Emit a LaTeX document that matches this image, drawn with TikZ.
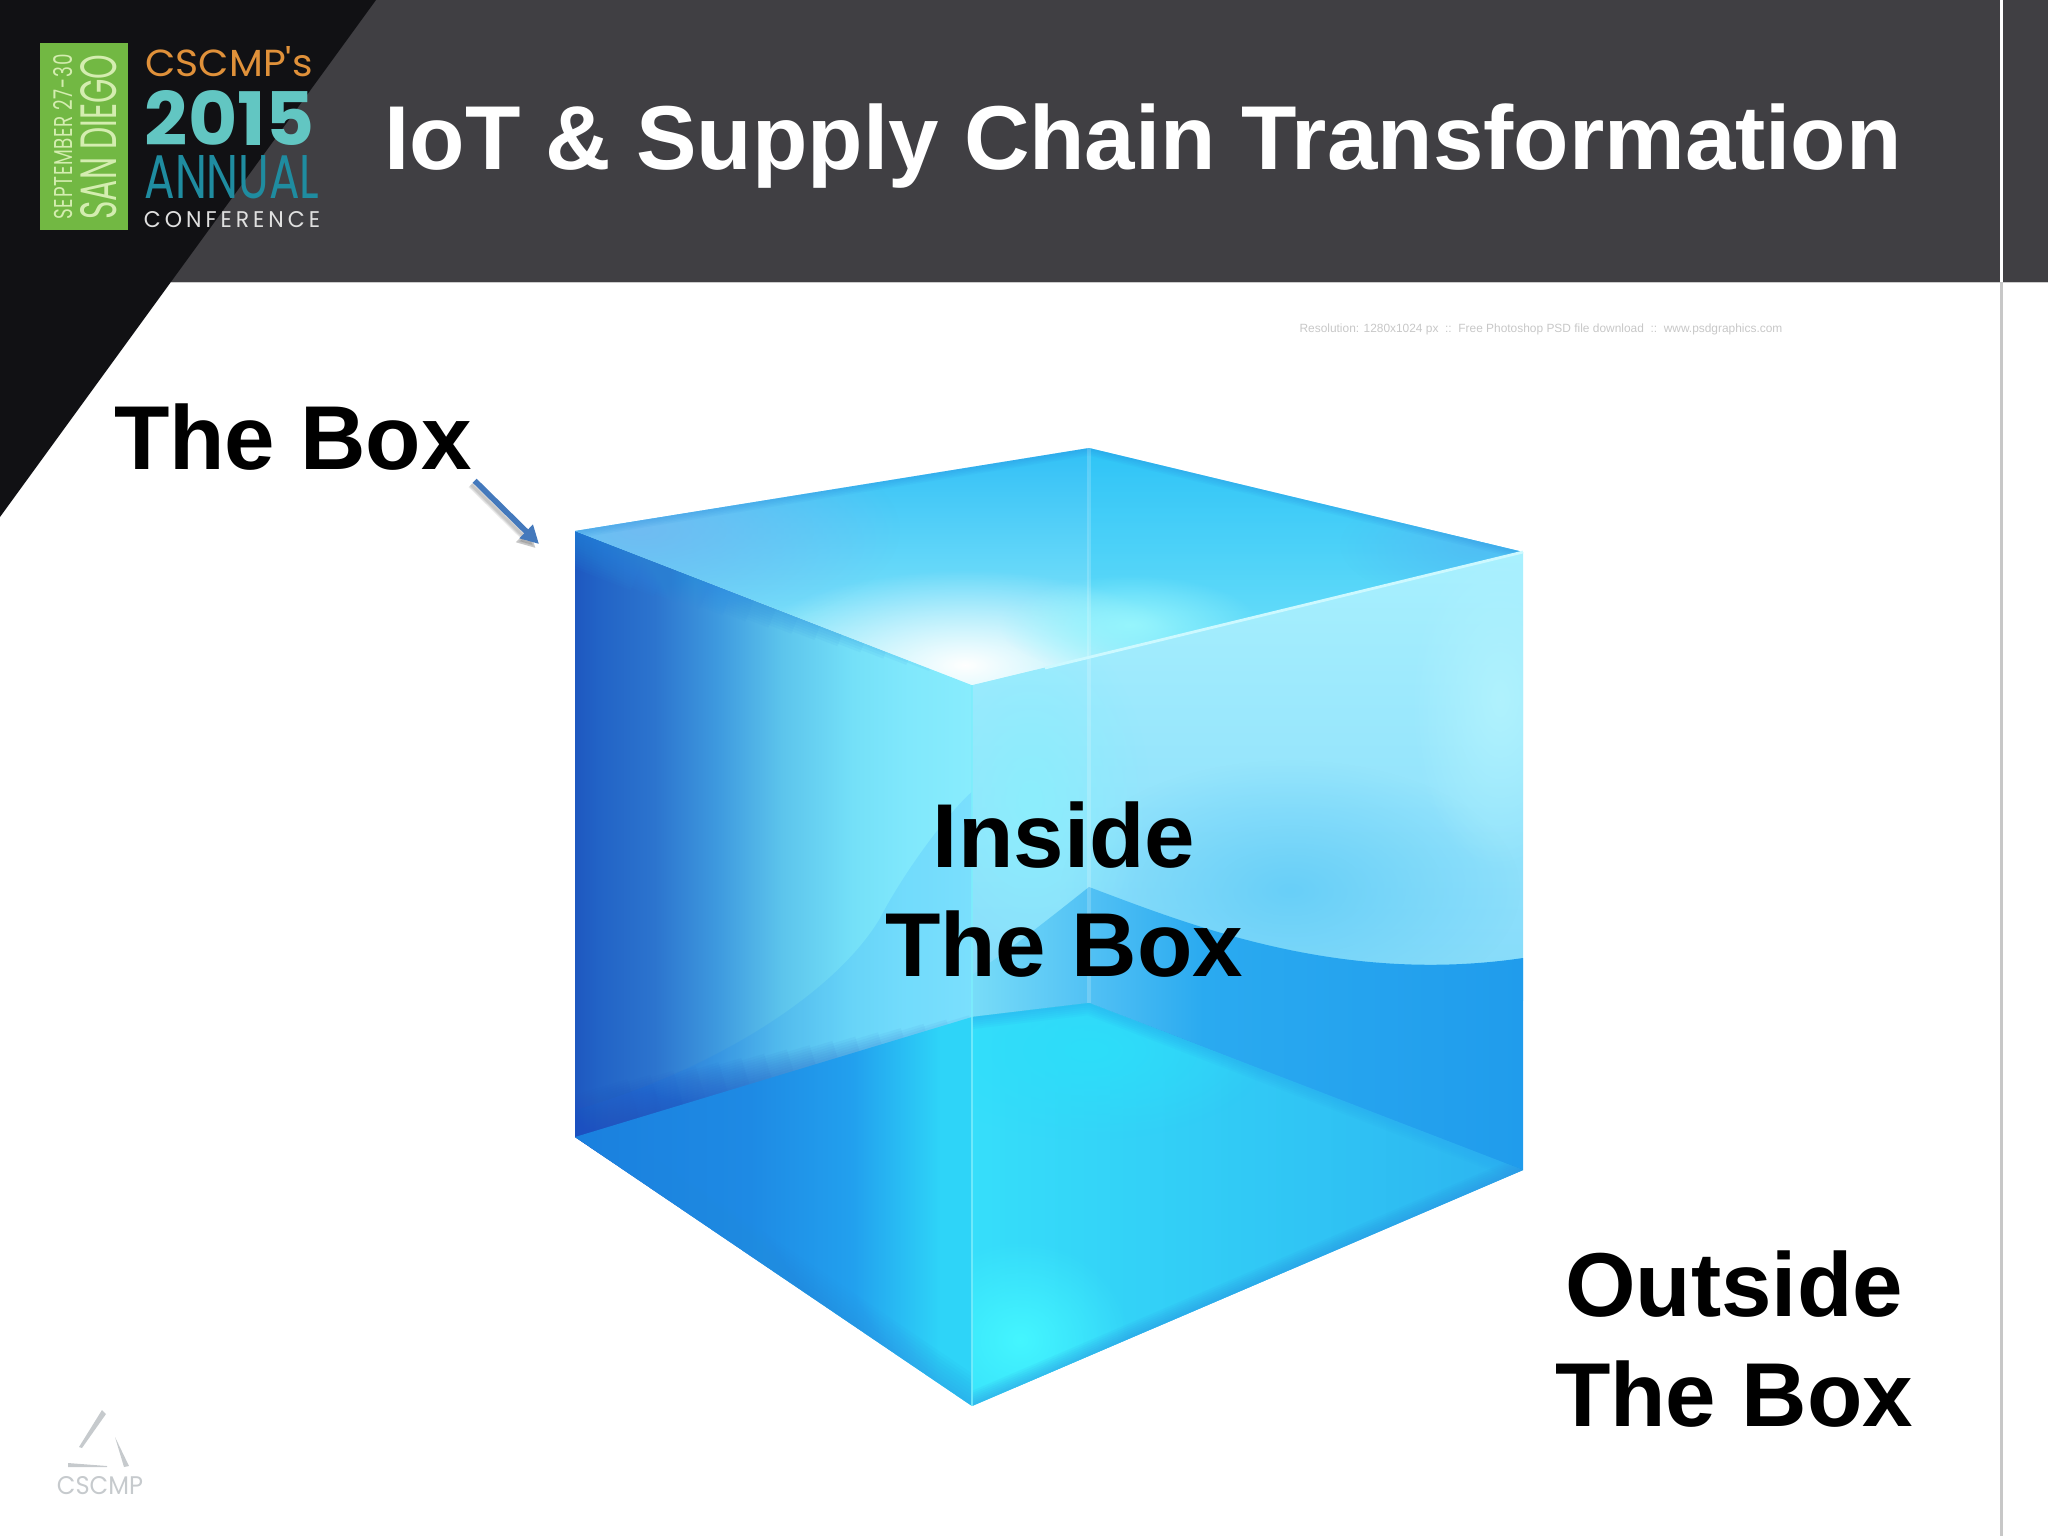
\documentclass[tikz,border=0pt]{standalone}
\usepackage{fontspec}
\setmainfont{Liberation Sans}
\newfontfamily\logofont{Poppins}
\usetikzlibrary{arrows.meta,fadings,calc}

\definecolor{headgray}{HTML}{403F43}
\definecolor{cornerblack}{HTML}{111114}
\definecolor{logogreen}{HTML}{72B843}
\definecolor{logopale}{HTML}{D4EDB0}
\definecolor{logoorange}{HTML}{E0913A}
\definecolor{logoteal}{HTML}{62C6C2}
\definecolor{logodeep}{HTML}{1F8CA0}
\definecolor{arrowblue}{HTML}{4479BC}
\definecolor{markgray}{HTML}{C6CACD}

% wall colours, left to right
\definecolor{wa}{HTML}{1E58C0}
\definecolor{wb}{HTML}{2263C6}
\definecolor{wc}{HTML}{2C74CE}
\definecolor{wd}{HTML}{3E9ADF}
\definecolor{we}{HTML}{5CC4EC}
\definecolor{wf}{HTML}{74E0F8}
\definecolor{wg}{HTML}{80E8FC}
\definecolor{wh}{HTML}{88ECFD}
\pgfdeclarehorizontalshading{wallleft}{100bp}{color(0bp)=(wa); color(25bp)=(wa); color(28bp)=(wb); color(35bp)=(wc); color(43bp)=(wd); color(51bp)=(we); color(60bp)=(wf); color(67bp)=(wg); color(75bp)=(wh); color(100bp)=(wh)}

% floor colours under the left wall
\definecolor{fa}{HTML}{1A80DE}
\definecolor{fb}{HTML}{1E8AE4}
\definecolor{fc}{HTML}{22A0EE}
\definecolor{fd}{HTML}{2ED4F8}
\pgfdeclarehorizontalshading{floorleft}{100bp}{color(0bp)=(fa); color(25bp)=(fa); color(47bp)=(fb); color(60bp)=(fc); color(71bp)=(fd); color(75bp)=(fd); color(100bp)=(fd)}

% right wall below the wave
\definecolor{wavea}{HTML}{78DCF8}
\definecolor{waveb}{HTML}{50C0F4}
\definecolor{wavec}{HTML}{2AAAF0}
\definecolor{waved}{HTML}{209CEC}
\pgfdeclarehorizontalshading{wavelow}{100bp}{color(0bp)=(wavea); color(25bp)=(wavea); color(36bp)=(waveb); color(46bp)=(wavec); color(75bp)=(waved); color(100bp)=(waved)}

% right wall and top face
\definecolor{rwalltop}{HTML}{A8F0FE}
\definecolor{rwalllow}{HTML}{84DAFA}
\definecolor{rspot}{HTML}{68CFF8}
\definecolor{redge}{HTML}{B0F2FE}
\definecolor{rinner}{HTML}{8CEEFD}
\definecolor{floorbright}{HTML}{36DEFA}
\definecolor{floordim}{HTML}{2CB4F0}
\definecolor{floorback}{HTML}{2DDEFA}
\definecolor{floorspot}{HTML}{44F6FF}
\definecolor{lidback}{HTML}{32C0F6}
\definecolor{lidfront}{HTML}{96EEFC}
\definecolor{lidleft}{HTML}{70BCF2}
\definecolor{lidright}{HTML}{28CDF8}
\definecolor{lidcorner}{HTML}{50BEF4}
\definecolor{lidglow}{HTML}{96F5FD}
\definecolor{edgepale}{HTML}{CDF9FF}
\definecolor{edgefront}{HTML}{7CEEFC}
\definecolor{bandblue}{HTML}{2A8CE0}
\definecolor{seamblue}{HTML}{2050C0}

\tikzfading[name=softfade, inner color=transparent!0, outer color=transparent!100]

\tikzset{
    biglabel/.style={font=\fontsize{25.8pt}{30pt}\selectfont\bfseries, anchor=base, inner sep=0.02cm, text depth=0.09cm},
    softspot/.style={path fading=softfade, draw=none},
    logotext/.style={inner sep=0pt, font=\logofont}
}

\begin{document}
\begin{tikzpicture}[x=0.01cm, y=-0.01cm]
    \useasboundingbox (0,0) rectangle (2048,1536);

    % Header
    \fill[headgray] (0,0) rectangle (2048,282);
    \fill[cornerblack] (0,0) -- (376,0) -- (0,517) -- cycle;
    \fill[gray!40] (171,281.5) rectangle (2048,282.5);
    \fill[white] (2000,0) rectangle (2003,282);
    \fill[black!22] (2000,282) rectangle (2003,1536);

    % Conference logo
    \fill[logogreen] (40,43) rectangle (128,230);
    \node[logotext, rotate=90, text=logopale] (logodate) at (63,137) {\resizebox{1.65cm}{0.19cm}{\addfontfeature{LetterSpace=4}SEPTEMBER 27-30}};
    \node[logotext, rotate=90, text=logopale] (logocity) at (99,137) {\resizebox{1.65cm}{0.36cm}{SAN DIEGO}};
    \node[logotext, text=logoorange] (logoname) at (229,62) {\resizebox{1.67cm}{0.30cm}{CSCMP's}};
    \node[logotext, text=logoteal] (logoyear) at (230,118) {\resizebox{1.70cm}{0.55cm}{\bfseries 2015}};
    \node[logotext, text=logodeep] (logoannual) at (232,177) {\resizebox{1.75cm}{0.43cm}{ANNUAL}};
    \node[logotext, text=white!88!black] (logoconf) at (232,220) {\resizebox{1.76cm}{0.16cm}{\addfontfeature{LetterSpace=18}CONFERENCE}};

    % Title
    \node[biglabel, text=white] (title) at (1143,169) {IoT \& Supply Chain Transformation};

    % Faint watermark of the box image
    \node[inner sep=0pt, text=black!22, font=\fontsize{3.39pt}{4pt}\selectfont] (mark) at (1541,329) {Resolution: 1280x1024 px\ \ ::\ \ Free Photoshop PSD file download\ \ ::\ \ www.psdgraphics.com};

    % Corners of the cube
    \coordinate (topleft) at (575,531);
    \coordinate (topback) at (1089,448);
    \coordinate (topright) at (1523,552);
    \coordinate (topfront) at (972,685);
    \coordinate (lowleft) at (575,1137);
    \coordinate (lowback) at (1089,1003);
    \coordinate (lowright) at (1523,1170);
    \coordinate (lowfront) at (972,1406);
    \coordinate (seam) at (972,1017);

    % Left wall
    \begin{scope}
        \clip (topleft) -- (topfront) -- (lowfront) -- (lowleft) -- cycle;
        \shade[shading=wallleft] (575,531) rectangle (972,1406);
        \foreach \w [evaluate=\w as \e using 0.95-\w/90] in {5,10,...,70}
            \draw[bandblue, opacity=0.07, line width=\w*0.2845pt] (topleft) -- ($(topleft)!\e!(topfront)$);
        % swoosh above the seam
        \fill[blue!55!cyan, opacity=0.1] (575,1110) .. controls (700,1075) and (830,1000) .. (879,920) .. controls (905,870) and (950,810) .. (974,790) -- (974,1040) -- (575,1150) -- cycle;
        \foreach \w [evaluate=\w as \e using 1.05-\w/90] in {5,10,...,80}
            \draw[seamblue, opacity=0.05, line width=\w*0.2845pt] (lowleft) -- ($(lowleft)!\e!(seam)$);
    \end{scope}

    % Right wall
    \begin{scope}
        \clip (topfront) -- (topright) -- (lowright) -- (lowfront) -- cycle;
        \shade[top color=rwalltop, bottom color=rwalllow] (972,552) rectangle (1523,1000);
        \fill[softspot, rspot] (1290,890) ellipse (230 and 130);
        \fill[softspot, redge] (1500,700) ellipse (90 and 170);
        \fill[softspot, rinner] (1030,800) ellipse (120 and 180);
        % part below the wave
        \shade[shading=wavelow] (1089,887) .. controls (1190,925) and (1340,985) .. (1523,958) -- (1523,1180) -- (972,1406) -- (972,975) .. controls (1010,950) and (1060,910) .. (1089,887) -- cycle;
    \end{scope}

    % Floor seen through the walls
    \begin{scope}
        \clip (lowleft) -- (seam) -- (lowfront) -- cycle;
        \shade[shading=floorleft] (575,1000) rectangle (972,1406);
        \foreach \w in {6,12,...,54}
            \draw[bandblue, opacity=0.05, line width=\w*0.2845pt] (lowleft) -- (lowfront);
    \end{scope}
    \begin{scope}
        \clip (seam) -- (lowback) -- (lowright) -- (lowfront) -- cycle;
        \shade[left color=floorbright, right color=floordim] (972,1000) rectangle (1523,1406);
        \fill[softspot, floorback] (1090,1050) ellipse (180 and 90);
        \fill[softspot, floorspot] (1020,1340) ellipse (110 and 100);
        \foreach \w in {4,8,...,24}
            \draw[wavec, opacity=0.1, line width=\w*0.2845pt] (seam) -- (lowback) -- (lowright);
        \foreach \w in {4,8,...,28}
            \draw[bandblue, opacity=0.08, line width=\w*0.2845pt] (lowfront) -- (lowright);
    \end{scope}

    % Top face
    \begin{scope}
        \clip (topleft) -- (topback) -- (topright) -- (topfront) -- cycle;
        \shade[top color=lidback, bottom color=lidfront] (575,448) rectangle (1523,685);
        \fill[softspot, lidleft] (640,530) ellipse (260 and 110);
        \fill[lidright, opacity=0.3] (1089,448) rectangle (1523,690);
        \fill[softspot, lidcorner] (1480,545) ellipse (140 and 60);
        \fill[softspot, white] (965,665) ellipse (230 and 95);
        \fill[softspot, lidglow] (1130,625) ellipse (130 and 50);
        \foreach \w in {3,6,...,15}
            \draw[bandblue, opacity=0.08, line width=\w*0.2845pt] (topleft) -- (topback) -- (topright);
    \end{scope}

    % Cube edges
    \draw[white, opacity=0.18, line width=1pt] (topback) -- (lowback);
    \draw[edgepale, line width=0.8pt] (1045,668) -- (topright);
    \draw[edgefront, opacity=0.8, line width=0.6pt] (topfront) -- (lowfront);

    % Labels
    \node[biglabel] (boxlabel) at (293,469) {The Box};
    \node[biglabel] (insideone) at (1064,867) {Inside};
    \node[biglabel] (insidetwo) at (1064,976) {The Box};
    \node[biglabel] (outsideone) at (1734,1316) {Outside};
    \node[biglabel] (outsidetwo) at (1734,1426) {The Box};

    % Arrow from the label to the corner of the cube
    \coordinate (cornertip) at (539,544);
    \begin{scope}[transform canvas={xshift=-0.035cm,yshift=-0.04cm}]
        \foreach \w in {0.8,1.4,2}
            \draw[black!60, opacity=0.14, line width=\w pt, -{Triangle[length=0.18cm,width=0.18cm]}] (boxlabel.south east) -- (cornertip);
    \end{scope}
    \draw[arrowblue, line width=1.6pt, -{Triangle[length=0.18cm,width=0.18cm]}] (boxlabel.south east) -- (cornertip);

    % CSCMP mark in the corner
    \fill[markgray] (102,1410) -- (106,1414) -- (82,1448) -- (79,1447) -- cycle;
    \fill[markgray] (115,1437) -- (129,1466) -- (124,1467) -- cycle;
    \fill[markgray] (68,1463) -- (107,1466) -- (107,1467) -- (68,1467) -- cycle;
    \node[logotext, text=markgray] (markname) at (100,1486) {\resizebox{0.86cm}{0.18cm}{CSCMP}};
\end{tikzpicture}
\end{document}
